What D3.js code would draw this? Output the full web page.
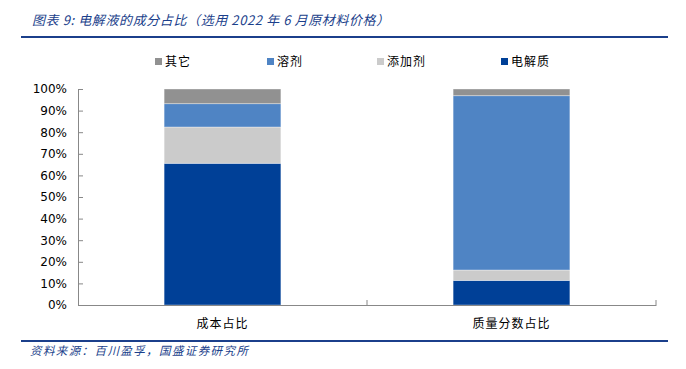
<!DOCTYPE html>
<html>
<head>
<meta charset="utf-8">
<script src="https://cdn.jsdelivr.net/npm/d3@7"></script>
<style>
  body { margin: 0; background: #fff; }
  svg { display: block; }
</style>
</head>
<body>
<script>
// data (percent of each bar)
const categories = ['成本占比', '质量分数占比'];
const seriesNames = ['电解质', '添加剂', '溶剂', '其它'];
const electrolyte = [65.6, 11.4];
const additive = [16.8, 4.8];
const solvent = [10.8, 80.7];
const other = [6.8, 3.1];
const legendOrder = ['其它', '溶剂', '添加剂', '电解质'];
const yTicks = [0, 10, 20, 30, 40, 50, 60, 70, 80, 90, 100];

const colors = {
  '电解质': '#004097',
  '添加剂': '#cbcbcb',
  '溶剂': '#4f84c4',
  '其它': '#919191'
};

const width = 686, height = 369;
const margin = { top: 89, right: 30, bottom: 64, left: 78 };

const svg = d3.select(document.body)
  .append('svg')
  .attr('width', width)
  .attr('height', height);

// title + rules
svg.append('text')
  .attr('x', 32)
  .attr('y', 25)
  .style('font-family', '"Noto Sans CJK SC", sans-serif')
  .style('font-style', 'italic')
  .style('font-size', '13px')
  .style('letter-spacing', '0.6px')
  .style('fill', '#1b3f8b')
  .text('图表 9:  电解液的成分占比（选用 2022 年 6 月原材料价格）');

svg.append('line')
  .attr('x1', 21).attr('x2', 668)
  .attr('y1', 37).attr('y2', 37)
  .style('stroke', '#1b3f8b')
  .style('stroke-width', 2);

svg.append('line')
  .attr('x1', 21).attr('x2', 668)
  .attr('y1', 341).attr('y2', 341)
  .style('stroke', '#1b3f8b')
  .style('stroke-width', 2);

svg.append('text')
  .attr('x', 30)
  .attr('y', 355)
  .style('font-family', '"Noto Sans CJK SC", sans-serif')
  .style('font-style', 'italic')
  .style('font-size', '11.5px')
  .style('letter-spacing', '1.4px')
  .style('fill', '#1b3f8b')
  .text('资料来源：百川盈孚，国盛证券研究所');

const table = categories.map((c, i) => ({
  category: c,
  '电解质': electrolyte[i],
  '添加剂': additive[i],
  '溶剂': solvent[i],
  '其它': other[i]
}));

const series = d3.stack().keys(seriesNames)(table);

const x = d3.scaleBand()
  .domain(categories)
  .range([margin.left, width - margin.right])
  .paddingInner(0)
  .paddingOuter(0);

const y = d3.scaleLinear()
  .domain([0, 100])
  .range([height - margin.bottom, margin.top]);

const barW = x.bandwidth() * 0.404;

svg.append('g')
  .selectAll('g')
  .data(series)
  .enter()
  .append('g')
  .style('fill', d => colors[d.key])
  .selectAll('rect')
  .data(d => d)
  .enter()
  .append('rect')
  .attr('x', d => x(d.data.category) + (x.bandwidth() - barW) / 2)
  .attr('width', barW)
  .attr('y', d => y(d[1]))
  .attr('height', d => y(d[0]) - y(d[1]))
  .style('stroke', 'rgba(255,255,255,0.45)')
  .style('stroke-width', 0.8);

// y axis
const yAxis = d3.axisLeft(y)
  .tickValues(yTicks)
  .tickFormat(d => d + '%')
  .tickSizeInner(-5)
  .tickSizeOuter(0)
  .tickPadding(11);

const gy = svg.append('g')
  .attr('transform', `translate(${margin.left},0)`)
  .call(yAxis);
gy.selectAll('line, path').style('stroke', '#888');
gy.selectAll('text')
  .style('font-family', '"DejaVu Sans", Verdana, sans-serif')
  .style('font-size', '12px')
  .style('fill', '#000');

// x axis
const xAxis = d3.axisBottom(x).tickSize(0).tickPadding(14);
const gx = svg.append('g')
  .attr('transform', `translate(0,${height - margin.bottom})`)
  .call(xAxis);
gx.select('path').style('stroke', '#888');
gx.selectAll('text')
  .style('font-family', '"Noto Sans CJK SC", sans-serif')
  .style('font-size', '12px')
  .style('letter-spacing', '1px')
  .style('fill', '#000');

// category boundary ticks (upward)
const bounds = categories.map(c => x(c) + x.bandwidth());
gx.selectAll('.bound')
  .data(bounds)
  .enter()
  .append('line')
  .attr('x1', d => d).attr('x2', d => d)
  .attr('y1', 0).attr('y2', -5)
  .style('stroke', '#888');

// legend
const legendX = [155, 267, 377, 501];
const legend = svg.append('g')
  .selectAll('g')
  .data(legendOrder)
  .enter()
  .append('g')
  .attr('transform', (d, i) => `translate(${legendX[i]},62)`);

legend.append('rect')
  .attr('x', 0).attr('y', -4)
  .attr('width', 7).attr('height', 7)
  .style('fill', d => colors[d]);

legend.append('text')
  .attr('x', 10)
  .attr('y', 4)
  .style('font-family', '"Noto Sans CJK SC", sans-serif')
  .style('font-size', '12px')
  .style('letter-spacing', '1px')
  .style('fill', '#000')
  .text(d => d);
</script>
</body>
</html>
